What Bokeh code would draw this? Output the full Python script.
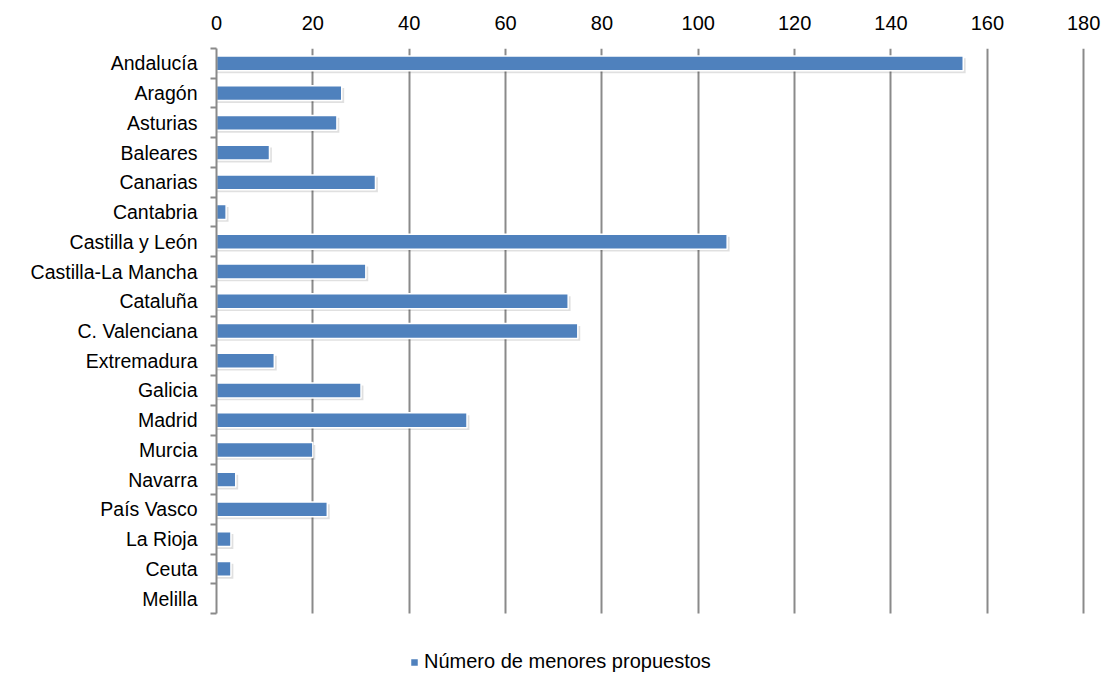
from bokeh.plotting import figure
from bokeh.models import (ColumnDataSource, Range1d, FixedTicker, Legend, LegendItem)
from bokeh.embed import file_html
from bokeh.resources import INLINE

categories = ["Andalucía", "Aragón", "Asturias", "Baleares", "Canarias", "Cantabria",
              "Castilla y León", "Castilla-La Mancha", "Cataluña", "C. Valenciana",
              "Extremadura", "Galicia", "Madrid", "Murcia", "Navarra", "País Vasco",
              "La Rioja", "Ceuta", "Melilla"]
values = [155, 26, 25, 11, 33, 2, 106, 31, 73, 75, 12, 30, 52, 20, 4, 23, 3, 3, 0]
x_ticks = [0, 20, 40, 60, 80, 100, 120, 140, 160, 180]
series_name = "Número de menores propuestos"

n = len(categories)
ypos = [n - 0.5 - i for i in range(n)]
src = ColumnDataSource(dict(y=ypos, v=values, cat=categories,
                            ys=[y - 0.08 for y in ypos],
                            vs=[v + 0.5 if v > 0 else 0 for v in values]))

FONT = "Liberation Sans"
GRID = "#8a8a8a"
BLUE = "#4F81BD"

W, H = 1107, 673
TOP, BOTTOM_CAT, LEFT, RIGHT = 48, 613, 216, 1083
X_MAX = 180
X_END = 181                            # small room so the last grid line is drawn
unit = (BOTTOM_CAT - TOP) / n          # pixels per category
y_start = -(H - BOTTOM_CAT) / unit     # extra room below the categories for the legend
px_per_val = (RIGHT - LEFT) / X_MAX
right_border = int(round(W - RIGHT - (X_END - X_MAX) * px_per_val))

p = figure(width=W, height=H, output_backend="svg", toolbar_location=None,
           x_range=Range1d(0, X_END), y_range=Range1d(y_start, n),
           x_axis_location="above",
           min_border_left=LEFT, min_border_right=right_border, min_border_top=TOP,
           min_border_bottom=0, outline_line_color=None)
p.background_fill_color = "white"
p.border_fill_color = "white"

# x axis (top)
xa = p.xaxis[0]
xa.ticker = FixedTicker(ticks=x_ticks, minor_ticks=[])
xa.axis_line_color = None
xa.major_tick_line_color = None
xa.minor_tick_line_color = None
xa.major_label_text_font = FONT
xa.major_label_text_font_size = "20px"
xa.major_label_text_color = "black"
xa.major_label_standoff = 13

p.xgrid.ticker = FixedTicker(ticks=x_ticks)
p.xgrid.grid_line_color = GRID
p.xgrid.grid_line_width = 2
p.xgrid.cross_bounds = (0, n)
p.ygrid.grid_line_color = None

# y axis (left): labels at centers, small ticks at boundaries
ya = p.yaxis[0]
ya.ticker = FixedTicker(ticks=ypos, minor_ticks=list(range(n + 1)))
ya.bounds = (0, n)
ya.major_label_overrides = {y: c for y, c in zip(ypos, categories)}
ya.major_tick_line_color = None
ya.minor_tick_out = 6
ya.minor_tick_in = 0
ya.minor_tick_line_color = GRID
ya.minor_tick_line_width = 2
ya.axis_line_color = GRID
ya.axis_line_width = 2
ya.major_label_text_font = FONT
ya.major_label_text_font_size = "19.5px"
ya.major_label_text_color = "black"
ya.major_label_standoff = 13

# shadow
p.hbar(y="ys", right="vs", left=0, height=0.5, source=src,
       fill_color="#000000", fill_alpha=0.12, line_color=None)
bars = p.hbar(y="y", right="v", left=0, height=0.5, source=src,
              fill_color=BLUE, line_color="white", line_width=1.5)

legend = Legend(items=[LegendItem(label=series_name, renderers=[bars])],
                location=(193, 0), orientation="horizontal",
                label_text_font=FONT, label_text_font_size="20px",
                label_text_color="black", glyph_width=10, glyph_height=10,
                padding=2, margin=0, border_line_color=None,
                background_fill_alpha=0, label_standoff=5)
p.add_layout(legend, "center")

open("out.html", "w").write(file_html(p, INLINE))
